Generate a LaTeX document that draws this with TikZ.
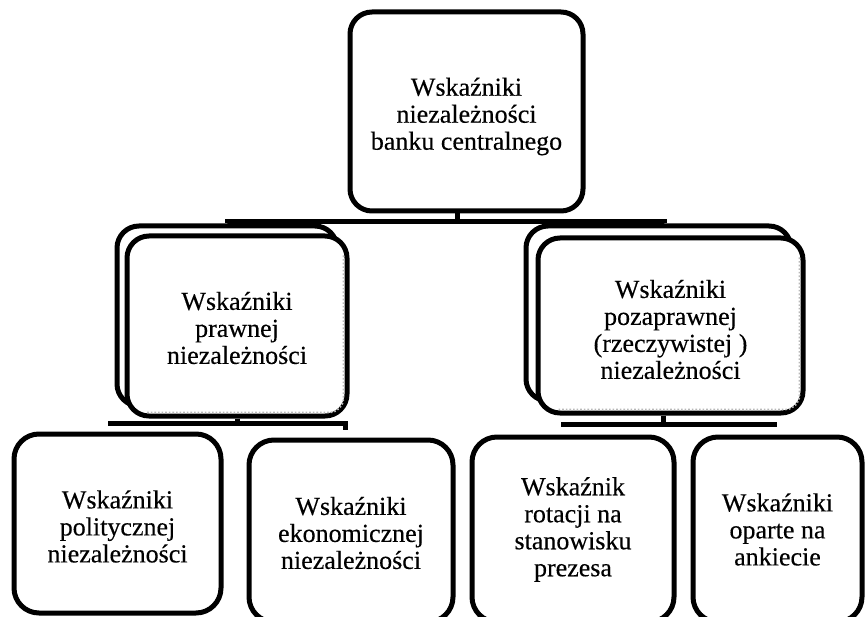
\documentclass[tikz,border=0pt]{standalone}
\usepackage{fontspec}
\setmainfont{Liberation Serif}
\newfontfamily\boxfont{Liberation Serif}[FakeBold=0.3]
\usetikzlibrary{calc,backgrounds}
\begin{document}
\begin{tikzpicture}[x=1pt,y=-1pt,
  box/.style={draw, fill=white, line width=5pt, rounded corners=22pt, inner sep=0pt},
  txt/.style={align=center, inner sep=0pt, font=\boxfont\fontsize{26}{27}\selectfont},
  conn/.style={draw, line width=5pt},
  shadeline/.style={draw=gray!55, dotted, line width=1.6pt, rounded corners=14pt}]
\useasboundingbox (0,0) rectangle (867,617);
\clip (0,0) rectangle (867,617);
% top
\node[box, minimum width=233pt, minimum height=199pt] (top) at (466.5,111.5) {};
\node[txt] (topT) at ([yshift=-5pt]top.center) {Wskaźniki\\niezależności\\banku centralnego};
% left stack
\node[box, minimum width=220pt, minimum height=180pt] (lb) at (227,316) {};
\node[box, minimum width=220pt, minimum height=180pt] (lf) at (237,326) {};
\node[txt] (lfT) at ([yshift=-2pt]lf.center) {Wskaźniki\\prawnej\\niezależności};
\path[shadeline] ($(lf.north east)+(-6,22)$) -- ($(lf.south east)+(-6,-6)$) -- ($(lf.south west)+(22,-6)$);
% right stack
\node[box, minimum width=265pt, minimum height=175pt] (rb) at (658.5,313.5) {};
\node[box, minimum width=265pt, minimum height=175pt] (rf) at (670.5,325.5) {};
\node[txt] (rfT) at ([yshift=-4pt]rf.center) {Wskaźniki\\pozaprawnej\\(rzeczywistej )\\niezależności};
\path[shadeline] ($(rf.north east)+(-6,22)$) -- ($(rf.south east)+(-6,-6)$) -- ($(rf.south west)+(22,-6)$);
% bottom row
\node[box, rounded corners=25pt, minimum width=207pt, minimum height=179pt] (b1) at (117.5,523.5) {};
\node[txt] (b1T) at ([yshift=-3pt]b1.center) {Wskaźniki\\politycznej\\niezależności};
\node[box, rounded corners=25pt, minimum width=204pt, minimum height=182pt] (b2) at (351,531) {};
\node[txt] (b2T) at ([yshift=-2pt]b2.center) {Wskaźniki\\ekonomicznej\\niezależności};
\node[box, rounded corners=25pt, minimum width=202pt, minimum height=185pt] (b3) at (573,529.5) {};
\node[txt] (b3T) at (b3.center) {Wskaźnik\\rotacji na\\stanowisku\\prezesa};
\node[box, rounded corners=25pt, minimum width=169pt, minimum height=185pt] (b4) at (777.5,529.5) {};
\node[txt] (b4T) at (b4.center) {Wskaźniki\\oparte na\\ankiecie};
\begin{pgfonlayer}{background}
\fill[white] (0,0) rectangle (867,617);
\draw[conn] ([xshift=-9pt]top.south) -- ++(0,8) -| (lb.north);
\draw[conn] ([xshift=-9pt]top.south) -- ++(0,8) -| ([xshift=6pt]rb.north);
\draw[conn, shorten >=8pt] (lf.south) -- ++(0,5) -| ([xshift=-10pt]b1.north);
\draw[conn, shorten >=8pt] (lf.south) -- ++(0,5) -| ([xshift=-6pt]b2.north);
\draw[conn, shorten >=8pt] ([xshift=-7pt]rf.south) -- ++(0,9) -| ([xshift=-10pt]b3.north);
\draw[conn, shorten >=8pt] ([xshift=-7pt]rf.south) -- ++(0,9) -| ([xshift=-3pt]b4.north);
\end{pgfonlayer}
\end{tikzpicture}
\end{document}
